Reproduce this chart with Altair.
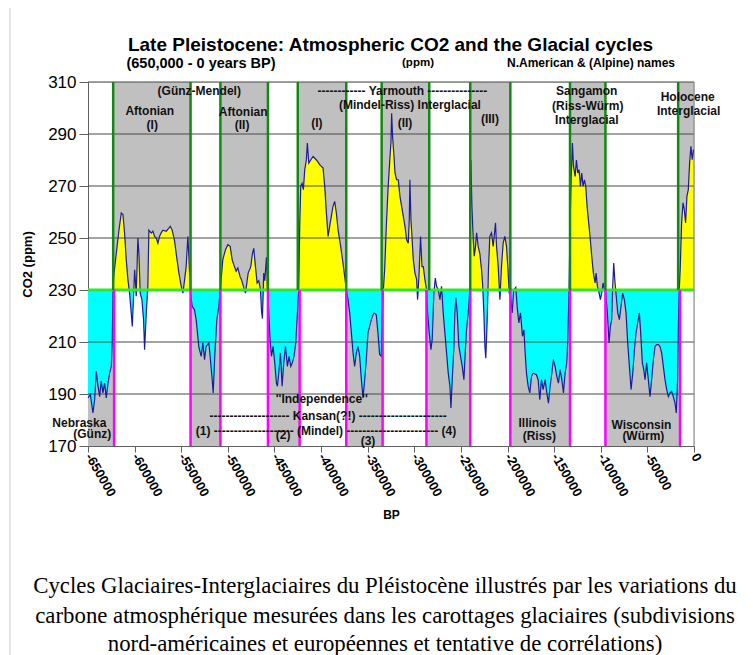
import altair as alt
import pandas as pd

# ---- CO2 record: years BP (kyr) and ppm ----
bp_kyr = [
 -650.0,-647.5,-644.7,-642.9,-641.1,-639.3,-637.5,-635.8,-634.0,-632.2,-630.4,-628.6,-626.8,-625.0,-624.0,-623.2,
 -622.2,-619.7,-616.8,-614.3,-612.5,-610.8,-609.0,-607.2,-605.4,-603.6,-602.5,-601.1,-600.0,-599.0,-598.3,-596.5,
 -595.4,-594.0,-592.2,-590.4,-589.3,-587.5,-585.8,-584.7,-582.2,-580.4,-578.6,-576.8,-575.0,-573.3,-571.5,-569.7,
 -566.1,-563.3,-561.8,-559.7,-557.2,-555.4,-552.5,-550.0,-548.2,-546.5,-544.7,-542.9,-541.8,-540.4,-538.3,-535.8,
 -534.0,-531.1,-528.6,-526.8,-525.0,-523.3,-520.4,-519.0,-516.8,-515.7,-513.9,-511.8,-509.7,-508.2,-505.4,-502.5,
 -500.0,-497.5,-495.4,-492.9,-491.1,-489.3,-486.8,
 -485.4,-481.1,-478.2,-475.4,-473.6,-472.2,-470.4,-468.6,-466.8,-465.0,-463.9,-462.9,-461.5,-460.4,-458.6,-457.5,
 -456.1,-454.7,-453.2,-451.5,-449.7,-447.9,-446.8,-445.4,-443.6,-441.8,-440.0,-438.2,-436.1,-434.3,-432.5,-430.8,
 -429.0,-427.2,-425.4,-424.0,-422.9,-421.8,-420.4,-419.0,-417.5,-415.8,-414.7,-413.2,-411.1,-408.6,-405.0,-401.5,
 -397.9,-396.1,-394.3,-392.5,-390.8,-387.2,-385.4,-383.6,-381.8,-379.0,-376.5,-374.7,-372.9,-371.1,-369.3,-367.5,
 -365.7,-364.0,-362.2,-360.4,-358.6,-356.8,-355.0,-353.2,-351.5,-349.7,-347.9,-346.1,-343.3,-340.8,-339.0,-337.2,
 -335.4,-334.3,-333.2,-331.8,-330.0,-328.2,-326.5,-325.0,
 -324.3,-323.3,-321.8,-320.7,-319.0,-317.2,-315.4,-313.6,-311.8,-310.0,-308.3,-306.5,-305.4,-304.7,-303.6,-302.5,
 -301.1,-299.3,-297.5,-296.5,-295.0,-293.3,-291.8,-290.4,-288.6,-286.8,-285.7,-284.0,-282.2,-280.8,-279.0,-277.5,
 -276.1,-274.3,-272.5,-270.8,-269.0,-267.2,-265.4,-263.6,-261.8,-260.7,-259.3,-257.5,-256.5,-255.4,-254.0,-252.2,
 -250.4,-248.6,-246.8,-245.4,-244.0,-242.2,-240.4,-239.3,-238.2,-236.8,-235.7,-234.3,-233.2,-231.5,-229.7,-227.9,
 -226.8,-225.4,-224.3,-223.3,-221.8,-220.4,-219.0,-217.2,-215.4,-214.3,-212.9,-211.8,-210.0,-208.2,-206.5,-204.7,
 -202.9,-201.1,-199.3,-198.2,-196.8,-195.0,-193.3,-191.1,-189.7,-187.9,-186.1,-184.0,-182.5,-181.1,-179.7,-177.9,
 -176.1,-174.3,-172.5,-169.0,-167.2,-165.4,-163.6,-161.8,
 -159.7,-157.9,-156.1,-154.3,-152.5,-150.8,-149.0,-147.2,-145.4,-143.6,-141.8,-140.0,-138.3,-136.5,-135.4,-134.0,
 -132.9,-131.8,-130.4,-129.3,-127.5,-126.1,-124.7,-123.3,-121.8,-120.4,-119.0,-117.5,-116.1,-114.7,-113.3,-111.5,
 -109.7,-107.9,-106.1,-105.0,-103.6,-101.8,-100.4,-99.0,-97.5,-96.1,-94.7,-92.9,-91.1,-89.7,-88.3,-87.2,
 -86.1,-85.0,-83.3,-81.8,-80.0,-78.3,-76.5,-74.7,-72.9,-71.1,-69.3,-67.5,-65.7,-63.9,-62.2,-60.4,
 -58.6,-57.2,-55.4,-53.9,-52.5,-50.8,-49.0,-47.2,-45.4,-43.6,-41.8,-40.0,-38.2,-36.5,-34.7,-32.9,
 -31.1,-29.3,-27.5,-25.8,-24.0,-22.2,-20.4,-19.0,-17.6,-16.5,-15.8,-14.7,-13.3,-11.8,-10.4,-9.0,
 -7.6,-6.1,-4.7,-3.3,-1.9,-0.5]
co2_ppm = [
 188.5,189.8,182.7,187.8,198.7,193.0,189.0,195.0,190.4,194.2,188.5,194.0,198.0,200.6,210.0,230.0,
 236.0,244.0,253.0,259.6,259.0,252.0,241.7,234.0,228.8,221.0,216.0,227.6,237.8,232.7,227.6,250.0,
 244.0,228.8,226.3,218.6,207.0,221.0,231.4,253.0,251.9,252.6,250.6,250.0,248.0,250.6,252.0,253.0,
 252.6,253.8,254.5,253.0,249.0,244.0,236.5,231.4,228.8,233.6,239.0,250.6,243.0,230.0,223.7,222.4,
 218.6,208.0,204.5,209.6,203.2,208.3,209.6,204.5,195.5,190.4,205.8,218.6,223.7,230.0,241.7,245.5,
 247.4,246.8,241.7,239.0,237.2,238.5,235.0,
 234.0,228.8,236.5,239.0,244.0,246.0,239.0,232.7,233.6,230.0,222.0,219.0,236.5,233.6,242.6,230.0,
 221.0,210.9,204.5,208.3,202.0,194.2,193.0,198.0,205.8,193.0,202.0,208.3,200.6,204.5,200.6,202.0,
 204.5,209.6,221.0,230.0,254.5,269.9,271.0,268.6,276.3,280.0,286.5,278.8,280.0,281.4,280.0,278.2,
 276.9,269.9,259.6,250.6,254.5,262.2,264.1,259.6,253.2,246.8,240.4,235.3,230.0,226.3,221.2,213.5,
 205.8,200.6,205.8,208.3,204.5,195.5,188.5,195.5,203.2,213.5,216.0,218.6,221.2,220.5,213.5,205.2,
 204.5,221.0,230.0,237.8,254.5,268.6,278.8,287.0,
 298.0,289.0,281.4,275.0,272.4,272.4,266.0,262.2,258.3,254.5,249.4,248.0,257.0,272.4,257.0,250.6,
 241.7,236.5,234.0,226.3,235.3,250.6,239.0,239.0,234.0,230.0,221.2,213.5,207.0,211.0,228.8,234.6,
 231.4,230.0,226.3,231.4,221.2,213.5,205.8,198.0,193.0,184.6,195.5,208.3,221.2,227.0,221.2,208.3,
 204.5,200.6,195.5,205.8,214.7,221.2,230.0,280.0,262.2,249.4,243.0,246.8,252.0,246.8,244.0,237.8,
 232.7,221.2,208.3,203.8,218.6,238.7,250.6,252.0,246.8,250.6,255.8,246.8,239.0,226.3,239.0,248.0,
 250.6,246.8,236.5,228.8,227.6,221.2,230.0,231.0,223.7,217.3,221.2,212.2,214.7,205.8,198.0,193.0,
 190.4,196.8,198.0,197.4,195.5,187.8,195.5,191.7,
 195.5,190.4,186.5,193.0,198.0,203.2,200.6,196.8,194.2,199.4,195.5,190.4,198.0,201.9,210.9,230.0,
 255.8,272.4,286.5,277.6,273.7,280.0,275.0,276.3,269.9,275.0,269.9,272.4,269.9,262.2,257.0,250.6,
 243.0,236.5,232.7,236.5,231.4,228.8,226.3,228.8,232.7,230.0,228.8,221.2,209.6,216.0,218.6,231.4,
 240.4,234.0,227.2,221.2,218.6,223.7,228.8,226.3,221.2,209.6,200.6,191.7,198.0,207.0,213.5,217.3,
 221.2,213.5,202.0,199.4,195.5,202.0,195.5,189.0,195.5,203.2,208.3,209.0,209.0,208.3,205.8,200.6,
 195.5,191.7,189.0,190.4,191.0,189.0,186.5,182.7,195.5,221.2,230.0,239.0,255.8,263.5,261.0,255.8,
 266.0,268.6,278.8,285.3,280.1,284.0]

# ---- periods ----
inter_start = [-623000, -508000, -425000, -335000, -240000, -133000, -17000]
inter_end = [-540000, -457000, -373000, -284000, -197000, -95000, 0]
glac_start = [-650000, -540000, -457000, -373000, -287000, -197000, -95000]
glac_end = [-622000, -508000, -423000, -334000, -240000, -133000, -15000]
green_bounds = [-623000, -540000, -508000, -457000, -425000, -373000, -335000,
                -284000, -240000, -197000, -133000, -95000, -17000]
magenta_bounds = [-622000, -540000, -508000, -457000, -423000, -373000, -334000,
                  -287000, -240000, -197000, -133000, -95000, -15000]
grid_ppm = [190, 210, 250, 270, 290, 310]
x_ticks = list(range(-650000, 1, 50000))
y_ticks = [170, 190, 210, 230, 250, 270, 290, 310]

# annotations: text, BP, ppm
ann_text = ["(Günz-Mendel)", "Aftonian", "(I)", "Aftonian", "(II)", "(I)",
            "-" * 12 + " Yarmouth " + "-" * 15, "(Mindel-Riss) Interglacial", "(II)", "(III)",
            "Sangamon", "(Riss-Würm)", "Interglacial", "Holocene", "Interglacial",
            "Nebraska", "(Günz)", "''Independence''",
            "-" * 20 + " Kansan(?!) " + "-" * 22,
            "(1) " + "-" * 20 + " (Mindel) " + "-" * 23 + " (4)",
            "(2)", "(3)", "Illinois", "(Riss)", "Wisconsin", "(Würm)"]
ann_bp = [-530700, -583800, -581100, -483600, -484700, -404600,
          -312700, -304700, -310000, -218900,
          -115000, -114000, -115000, -6800, -5800,
          -659300, -645400, -399300, -392500, -394700,
          -440800, -349700, -167900, -165900, -56400, -54300]
ann_ppm = [306.7, 298.7, 293.6, 298.6, 293.6, 294.3,
           306.7, 301.3, 294.3, 295.9,
           306.4, 300.6, 295.2, 304.3, 299.0,
           179.0, 174.7, 188.2, 181.7, 175.9,
           174.1, 172.1, 178.8, 174.0, 178.2, 173.7]

caption = ["Cycles Glaciaires-Interglaciaires du Pléistocène illustrés par les variations du",
           "carbone atmosphérique mesurées dans les carottages glaciaires (subdivisions",
           "nord-américaines et européennes et tentative de corrélations)"]

W, H = 606, 364
xs = alt.Scale(domain=[-650000, 0], nice=False, zero=False)
ys = alt.Scale(domain=[170, 310], nice=False, zero=False)
FONT = "Liberation Sans"

df = pd.DataFrame({"bp": [v * 1000 for v in bp_kyr], "co2": co2_ppm})
inter = pd.DataFrame({"s": inter_start, "e": inter_end})
glac = pd.DataFrame({"s": glac_start, "e": glac_end})

xaxis = alt.Axis(values=x_ticks, labelExpr="'' + datum.value", labelAngle=60, labelAlign="left",
                 labelBaseline="middle", labelFontSize=13, labelFontWeight="bold", labelFont=FONT,
                 labelColor="black",
                 tickSize=6, tickColor="#606060", domainColor="#606060", labelPadding=2, grid=False,
                 labelOverlap=False, labelBound=False, labelFlush=False,
                 title="BP", titleFontSize=12, titleFontWeight="bold", titleFont=FONT, titleY=68,
                 titleBaseline="middle", titleColor="black")
yaxis = alt.Axis(values=y_ticks, labelFontSize=17, labelFont=FONT, labelFontWeight="normal",
                 labelColor="black",
                 tickSize=9, tickColor="#606060", domainColor="#606060", labelPadding=3, grid=False,
                 title="CO2 (ppm)", titleFontSize=13, titleFontWeight="bold", titleFont=FONT,
                 titlePadding=13, titleColor="black")


def X(field):
    return alt.X(field, scale=xs, axis=xaxis)


def Y(field):
    return alt.Y(field, scale=ys, axis=yaxis)


bands_i = alt.Chart(inter).mark_rect(color="#c0c0c0").encode(
    x=X("s:Q"), x2="e:Q", y=Y("lo:Q"), y2="hi:Q"
).transform_calculate(lo="230", hi="310")
bands_g = alt.Chart(glac).mark_rect(color="#c0c0c0").encode(
    x=X("s:Q"), x2="e:Q", y=Y("lo:Q"), y2="hi:Q"
).transform_calculate(lo="170", hi="230")

base = alt.Chart(df).transform_calculate(up="max(datum.co2, 230)", dn="min(datum.co2, 230)", mid="230")
yellow = base.mark_area(color="#ffff00").encode(x=X("bp:Q"), y=Y("up:Q"), y2="mid:Q")
cyan = base.mark_area(color="#00ffff").encode(x=X("bp:Q"), y=Y("dn:Q"), y2="mid:Q")

grid = alt.Chart(pd.DataFrame({"v": grid_ppm})).mark_rule(color="#484848", strokeWidth=1).encode(
    y=Y("v:Q"))
right_edge = alt.Chart(pd.DataFrame({"x": [0]})).mark_rule(color="#808080", strokeWidth=1).encode(
    x=X("x:Q"))

curve = base.mark_line(color="#1c1c9a", strokeWidth=1.2).encode(x=X("bp:Q"), y=Y("co2:Q"))

green_h = alt.Chart(pd.DataFrame({"v": [230]})).mark_rule(color="#2ee82e", strokeWidth=3).encode(
    y=Y("v:Q"))
green_v = alt.Chart(pd.DataFrame({"x": green_bounds})).mark_rule(color="#118a11", strokeWidth=2.5).encode(
    x=X("x:Q"), y=Y("a:Q"), y2="b:Q"
).transform_calculate(a="230", b="310")
mag_v = alt.Chart(pd.DataFrame({"x": magenta_bounds})).mark_rule(color="#ff00ff", strokeWidth=2.5).encode(
    x=X("x:Q"), y=Y("a:Q"), y2="b:Q"
).transform_calculate(a="170", b="230")

ann = alt.Chart(pd.DataFrame({"t": ann_text, "x": ann_bp, "y": ann_ppm})).mark_text(
    font=FONT, fontSize=12, fontWeight="bold", color="#111111").encode(
    x=X("x:Q"), y=Y("y:Q"), text="t:N")

one = pd.DataFrame({"k": [0]})
title = alt.Chart(one).mark_text(text="Late Pleistocene: Atmospheric CO2 and the Glacial cycles",
                                 font=FONT, fontSize=19, fontWeight="bold", color="black").encode(
    x=alt.value(302.5), y=alt.value(-37))
sub1 = alt.Chart(one).mark_text(text="(650,000 - 0 years BP)", font=FONT, fontSize=14.5,
                                fontWeight="bold", color="black").encode(x=alt.value(113), y=alt.value(-18))
sub2 = alt.Chart(one).mark_text(text="(ppm)", font=FONT, fontSize=11.5, fontWeight="bold",
                                color="black").encode(x=alt.value(330), y=alt.value(-19))
sub3 = alt.Chart(one).mark_text(text="N.American & (Alpine) names", font=FONT, fontSize=12,
                                fontWeight="bold", color="black").encode(x=alt.value(503), y=alt.value(-19))

cap_layers = []
for line, ypos in zip(caption, [504, 534, 562]):
    cap_layers.append(alt.Chart(one).mark_text(
        text=line, font="Liberation Serif", fontSize=22.8, color="black", baseline="middle"
    ).encode(x=alt.value(297), y=alt.value(ypos)))

frame = alt.Chart(one).mark_rule(color="#c8ccd1", strokeWidth=1).encode(
    x=alt.value(-78), y=alt.value(-82), y2=alt.value(573))

chart = alt.layer(
    bands_i, bands_g, yellow, cyan, grid, right_edge, curve, green_h, green_v, mag_v,
    ann, title, sub1, sub2, sub3, *cap_layers, frame
).properties(
    width=W, height=H,
    padding={"left": 80, "top": 74, "right": 51, "bottom": 209},
    autosize=alt.AutoSizeParams(type="none"),
).configure_view(stroke=None).configure(background="white")

chart.save("out.html", embed_options={"renderer": "svg", "actions": False})
